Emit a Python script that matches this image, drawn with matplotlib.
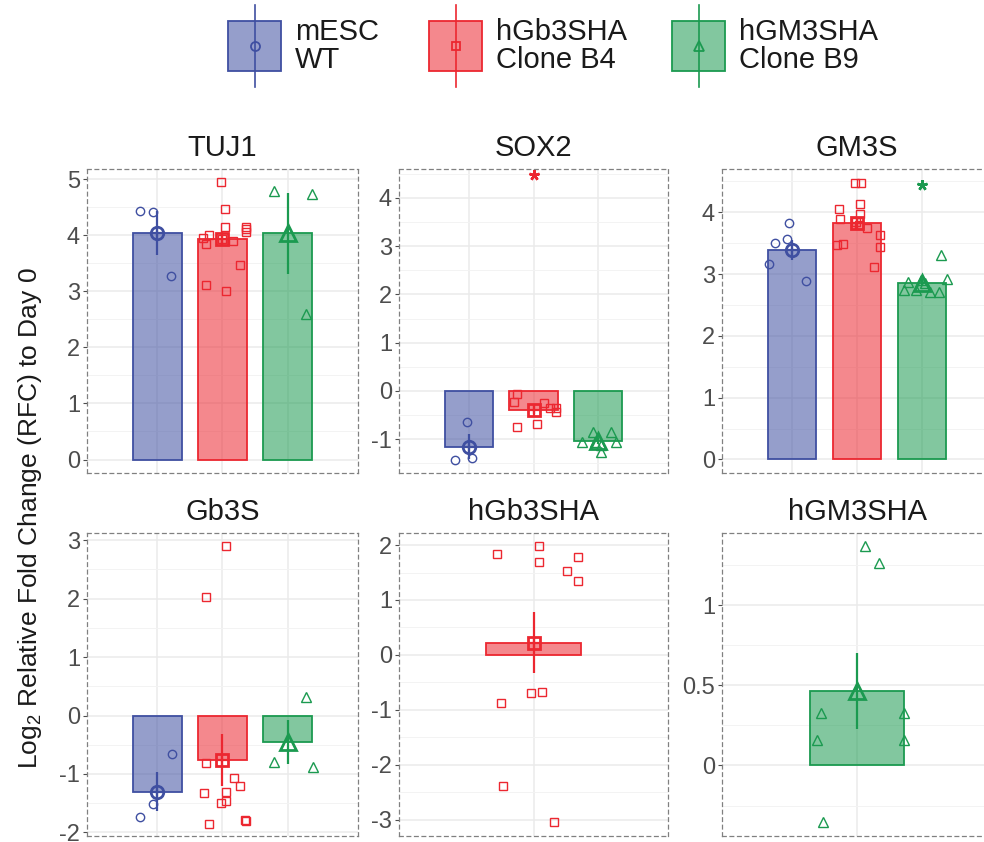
import numpy as np
import matplotlib.pyplot as plt
from matplotlib.patches import Rectangle
from matplotlib.ticker import MultipleLocator, FuncFormatter

plt.rcParams['font.family'] = ['Liberation Sans', 'DejaVu Sans']
plt.rcParams['mathtext.default'] = 'regular'
plt.rcParams['axes.unicode_minus'] = False

groups = ['mESC\nWT', 'hGb3SHA\nClone B4', 'hGM3SHA\nClone B9']
genes = ['TUJ1', 'SOX2', 'GM3S', 'Gb3S', 'hGb3SHA', 'hGM3SHA']

# log2 RFC of each replicate, per gene and cell line
tuj1_wt = [4.43, 4.42, 3.27]
tuj1_b4 = [4.95, 4.46, 4.15, 4.15, 4.11, 4.06, 4.01, 3.95, 3.84, 3.93, 3.89, 3.46, 3.11, 3.00]
tuj1_b9 = [4.79, 4.73, 2.59]
sox2_wt = [-0.65, -1.43, -1.38]
sox2_b4 = [-0.07, -0.22, -0.24, -0.35, -0.35, -0.44, -0.75, -0.69]
sox2_b9 = [-1.06, -0.85, -0.85, -1.06, -1.27, -1.05, -1.12]
gm3s_wt = [3.82, 3.51, 3.57, 3.16, 2.89]
gm3s_b4 = [4.48, 4.48, 4.06, 4.13, 3.97, 3.89, 3.74, 3.63, 3.43, 3.47, 3.49, 3.12, 3.85, 3.80]
gm3s_b9 = [2.87, 2.74, 2.74, 2.71, 2.71, 2.92, 3.31, 2.90, 2.85]
gb3s_wt = [-0.65, -1.52, -1.73]
gb3s_b4 = [2.89, 2.02, -0.82, -1.07, -1.21, -1.32, -1.30, -1.49, -1.46, -1.85, -1.79, -1.80]
gb3s_b9 = [0.31, -0.79, -0.88]
hgb3sha_b4 = [1.83, 1.98, 1.69, 1.78, 1.52, 1.34, -0.70, -0.68, -0.88, -2.39, -3.05]
hgm3sha_b9 = [1.37, 1.26, 0.33, 0.33, 0.16, 0.16, -0.35]

# horizontal jitter of each replicate (in category units)
tuj1_wt_dx = [-0.26, -0.07, 0.21]
tuj1_b4_dx = [-0.03, 0.04, 0.04, 0.36, 0.36, 0.36, -0.21, -0.30, -0.25, 0.0, 0.16, 0.27, -0.26, 0.06]
tuj1_b9_dx = [-0.21, 0.38, 0.28]
sox2_wt_dx = [-0.03, -0.21, 0.05]
sox2_b4_dx = [-0.26, -0.30, 0.16, 0.26, 0.35, 0.35, -0.26, 0.06]
sox2_b9_dx = [-0.25, -0.08, 0.20, 0.28, 0.04, -0.05, 0.05]
gm3s_wt_dx = [-0.05, -0.26, -0.08, -0.35, 0.21]
gm3s_b4_dx = [-0.03, 0.06, -0.27, 0.04, 0.04, -0.26, 0.16, 0.36, 0.36, -0.31, -0.21, 0.26, -0.02, 0.03]
gm3s_b9_dx = [-0.21, -0.28, -0.09, 0.12, 0.27, 0.38, 0.29, -0.02, 0.04]
gb3s_wt_dx = [0.22, -0.07, -0.26]
gb3s_b4_dx = [0.06, -0.26, -0.25, 0.17, 0.27, -0.29, 0.05, -0.02, 0.05, -0.21, 0.35, 0.36]
gb3s_b9_dx = [0.28, -0.21, 0.39]
hgb3sha_b4_dx = [-0.27, 0.04, 0.04, 0.33, 0.25, 0.33, -0.02, 0.06, -0.24, -0.23, 0.15]
hgm3sha_b9_dx = [0.06, 0.16, -0.27, 0.35, -0.30, 0.35, -0.25]

# significance stars: (gene, group index, y)
stars = [('SOX2', 1, 4.48), ('GM3S', 2, 4.44)]

panels = {
    'TUJ1': [(0, tuj1_wt, tuj1_wt_dx), (1, tuj1_b4, tuj1_b4_dx), (2, tuj1_b9, tuj1_b9_dx)],
    'SOX2': [(0, sox2_wt, sox2_wt_dx), (1, sox2_b4, sox2_b4_dx), (2, sox2_b9, sox2_b9_dx)],
    'GM3S': [(0, gm3s_wt, gm3s_wt_dx), (1, gm3s_b4, gm3s_b4_dx), (2, gm3s_b9, gm3s_b9_dx)],
    'Gb3S': [(0, gb3s_wt, gb3s_wt_dx), (1, gb3s_b4, gb3s_b4_dx), (2, gb3s_b9, gb3s_b9_dx)],
    'hGb3SHA': [(1, hgb3sha_b4, hgb3sha_b4_dx)],
    'hGM3SHA': [(2, hgm3sha_b9, hgm3sha_b9_dx)],
}

colors = ['#3F4FA1', '#EC2730', '#1B9A50']
markers = ['o', 's', '^']
pt_size = [6.0, 5.5, 7.2]
mean_size = [9.0, 8.0, 11.0]

ylims = [(-0.24, 5.18), (-1.70, 4.60), (-0.22, 4.70), (-2.06, 3.12), (-3.30, 2.22), (-0.44, 1.45)]
ysteps = [1, 1, 1, 1, 1, 0.5]

W, H = 984, 842
fig = plt.figure(figsize=(W / 100, H / 100), dpi=100)

cols = [(87, 358), (399, 668), (722, 992)]
rows = [(169, 473), (533, 836)]


def px_rect(x0, x1, y0, y1):
    return [x0 / W, 1 - y1 / H, (x1 - x0) / W, (y1 - y0) / H]


for i, gene in enumerate(genes):
    r, c = divmod(i, 3)
    ax = fig.add_axes(px_rect(*cols[c], *rows[r]))
    data = panels[gene]
    n = len(data)
    width = 0.75 if n == 3 else 0.70

    for k, (g, vals, dx) in enumerate(data):
        x = k + 1
        vals = np.asarray(vals)
        m = vals.mean()
        se = vals.std(ddof=1) / np.sqrt(len(vals))
        col = colors[g]
        ax.bar(x, m, width=width, color=col, alpha=0.55, zorder=2, linewidth=0)
        ax.bar(x, m, width=width, fill=False, edgecolor=col, linewidth=1.3, zorder=2.1)
        ax.plot(x + np.asarray(dx), vals, linestyle='none', marker=markers[g],
                ms=pt_size[g], mfc='none', mec=col, mew=1.0, zorder=3)
        ax.plot([x, x], [m - se, m + se], color=col, lw=1.6, zorder=4,
                solid_capstyle='butt')
        ax.plot(x, m, marker=markers[g], ms=mean_size[g], mfc='none', mec=col,
                mew=2.0, zorder=5)
        if g < 2:
            ax.plot(x, m, marker='+', ms=mean_size[g], mec=col, mew=1.6, zorder=5)

    for s_gene, s_grp, s_y in stars:
        if s_gene == gene:
            x = [k + 1 for k, d in enumerate(data) if d[0] == s_grp][0]
            ax.plot(x, s_y, marker=(5, 2, 0), ms=7.5, mec=colors[s_grp], mew=1.8, zorder=5)

    ax.set_xlim(-0.08, n + 1.08) if n == 3 else ax.set_xlim(0, 2)
    ax.set_ylim(*ylims[i])
    ax.set_xticks(range(1, n + 1))
    ax.tick_params(axis='x', length=0, labelbottom=False)
    ax.yaxis.set_major_locator(MultipleLocator(ysteps[i]))
    ax.yaxis.set_minor_locator(MultipleLocator(ysteps[i] / 2))
    ax.yaxis.set_major_formatter(FuncFormatter(lambda v, p: f'{v:g}'))
    ax.tick_params(axis='y', which='major', length=3, width=0.8, color='#4D4D4D',
                   labelsize=17, labelcolor='#4D4D4D', pad=2)
    ax.tick_params(axis='y', which='minor', length=0)
    ax.grid(which='major', color='#EBEBEB', lw=1.1, zorder=0)
    ax.grid(which='minor', axis='y', color='#F3F3F3', lw=0.7, zorder=0)
    ax.set_axisbelow(True)
    for sp in ax.spines.values():
        sp.set_linestyle((0, (3, 3)))
        sp.set_color('#808080')
        sp.set_linewidth(0.9)
    ax.set_title(gene, fontsize=21, pad=9, color='#1A1A1A')

fig.text(30 / W, 1 - 518 / H, 'Log$_2$ Relative Fold Change (RFC) to Day 0',
         rotation=90, ha='center', va='center', fontsize=19, color='#1A1A1A')

# legend drawn on an overlay in pixel units
lg = fig.add_axes([0, 0, 1, 1])
lg.set_xlim(0, W)
lg.set_ylim(H, 0)
lg.axis('off')
lg.patch.set_visible(False)
key_left = [228, 429, 672]
for g, label in enumerate(groups):
    x0 = key_left[g]
    col = colors[g]
    lg.add_patch(Rectangle((x0, 21), 53, 50, facecolor=col, alpha=0.55, lw=0))
    lg.add_patch(Rectangle((x0, 21), 53, 50, fill=False, edgecolor=col, lw=1.3))
    lg.plot([x0 + 26.5, x0 + 26.5], [5, 87], color=col, lw=1.2)
    lg.plot(x0 + 26.5, 46, marker=markers[g], ms=pt_size[g] + 0.5, mfc='none', mec=col, mew=1.3)
    lg.text(x0 + 67, 46, label, ha='left', va='center', fontsize=21,
            linespacing=1.0, color='#1A1A1A')

fig.savefig('out.png', dpi=100)
